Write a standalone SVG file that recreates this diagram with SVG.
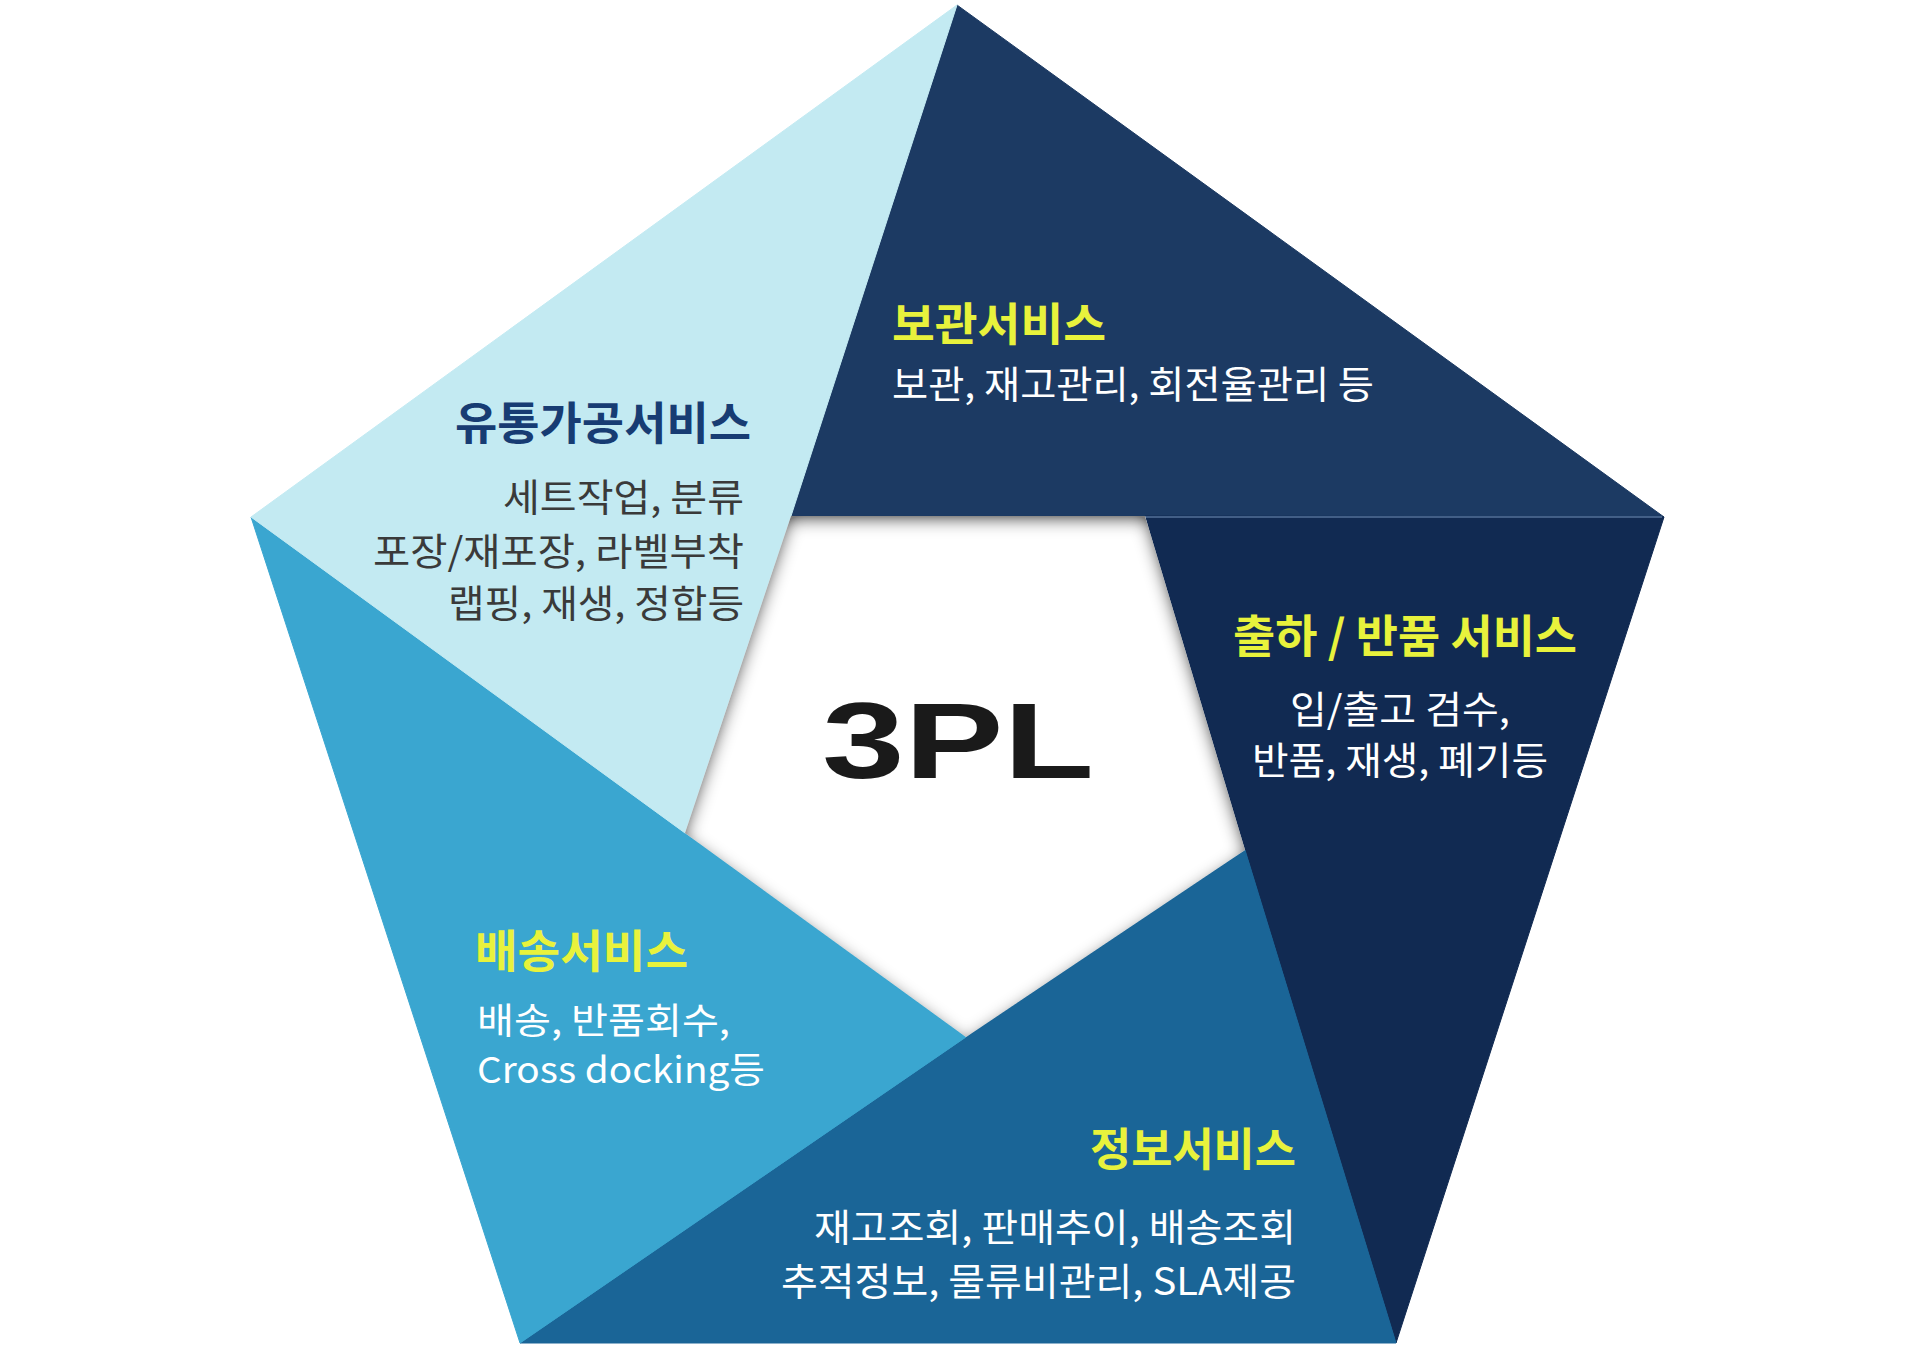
<svg xmlns="http://www.w3.org/2000/svg" width="1920" height="1352" viewBox="0 0 1920 1352">
  <defs>
    <filter id="inset" x="-10%" y="-10%" width="120%" height="120%">
      <feFlood flood-color="#000" flood-opacity="1" result="f"/>
      <feComposite in="f" in2="SourceAlpha" operator="out" result="outside"/>
      <feGaussianBlur in="outside" stdDeviation="8" result="blur"/>
      <feOffset in="blur" dx="0" dy="5" result="off"/>
      <feComposite in="off" in2="SourceAlpha" operator="in" result="shadow0"/>
      <feColorMatrix in="shadow0" type="matrix" values="0 0 0 0 0.2  0 0 0 0 0.2  0 0 0 0 0.2  0 0 0 1.3 0" result="shadow"/>
      <feMerge>
        <feMergeNode in="SourceGraphic"/>
        <feMergeNode in="shadow"/>
      </feMerge>
    </filter>
  </defs>
  <style>
    .title { font-family: "Noto Sans CJK KR", "Noto Sans", sans-serif; font-weight: 700; font-size: 45px; }
    .body { font-family: "Noto Sans CJK KR", "Noto Sans", sans-serif; font-weight: 400; font-size: 38px; }
    .small { font-size: 36px; }
    .yellow { fill: #e8f23c; }
    .white { fill: #ffffff; }
    .dark { fill: #3a3a3a; }
    .navy { fill: #173c73; }
    .seg { stroke-width: 1; stroke-linejoin: round; }
  </style>
  <rect width="1920" height="1352" fill="#ffffff"/>

  <g id="storage">
    <polygon class="seg" points="957,5 1664,517 791,516" fill="#1c3a63" stroke="#1c3a63"/>
  </g>
  <g id="shipping">
    <polygon class="seg" points="1145,516 1664,517 1396,1343 1245,850" fill="#112a52" stroke="#112a52"/>
  </g>
  <g id="info">
    <polygon class="seg" points="1245,850 1396,1343 520,1343 966,1037" fill="#1a6597" stroke="#1a6597"/>
  </g>
  <g id="delivery">
    <polygon class="seg" points="966,1037 520,1343 251,517 685,833" fill="#3aa6d0" stroke="#3aa6d0"/>
  </g>
  <g id="processing">
    <polygon class="seg" points="685,833 251,517 957,5 791,516" fill="#c3eaf2" stroke="#c3eaf2"/>
  </g>
  <line x1="1145" y1="517" x2="1662" y2="517" stroke="#4f6c94" stroke-width="2" opacity="0.8"/>

  <g id="center">
    <polygon points="791,516 1145,516 1245,850 966,1037 685,833" fill="#ffffff" filter="url(#inset)"/>
    <text x="822" y="778" font-family="Liberation Sans, Arial, sans-serif" font-weight="700" font-size="108" fill="#1a1a1a" textLength="272" lengthAdjust="spacingAndGlyphs">3PL</text>
  </g>

  <g id="processing-text">
    <text class="title navy" x="751" y="440" text-anchor="end" textLength="296" lengthAdjust="spacingAndGlyphs">유통가공서비스</text>
    <text class="body dark" x="744" y="511" text-anchor="end" textLength="241" lengthAdjust="spacingAndGlyphs">세트작업, 분류</text>
    <text class="body dark" x="744" y="565" text-anchor="end" textLength="371" lengthAdjust="spacingAndGlyphs">포장/재포장, 라벨부착</text>
    <text class="body dark" x="744" y="617" text-anchor="end" textLength="296" lengthAdjust="spacingAndGlyphs">랩핑, 재생, 정합등</text>
  </g>

  <g id="storage-text">
    <text class="title yellow" x="892" y="341" textLength="214" lengthAdjust="spacingAndGlyphs">보관서비스</text>
    <text class="body white" x="892" y="398" textLength="482" lengthAdjust="spacingAndGlyphs">보관, 재고관리, 회전율관리 등</text>
  </g>

  <g id="shipping-text">
    <text class="title yellow" x="1233" y="653" textLength="344" lengthAdjust="spacingAndGlyphs">출하 / 반품 서비스</text>
    <text class="body white" x="1290" y="723" textLength="220" lengthAdjust="spacingAndGlyphs">입/출고 검수,</text>
    <text class="body white" x="1252" y="774" textLength="296" lengthAdjust="spacingAndGlyphs">반품, 재생, 폐기등</text>
  </g>

  <g id="delivery-text">
    <text class="title yellow" x="475" y="968" textLength="213" lengthAdjust="spacingAndGlyphs">배송서비스</text>
    <text class="body small white" x="477" y="1034" textLength="253" lengthAdjust="spacingAndGlyphs">배송, 반품회수,</text>
    <text class="body small white" x="477" y="1083" textLength="288" lengthAdjust="spacingAndGlyphs">Cross docking등</text>
  </g>

  <g id="info-text">
    <text class="title yellow" x="1296" y="1166" text-anchor="end" textLength="206" lengthAdjust="spacingAndGlyphs">정보서비스</text>
    <text class="body white" x="1296" y="1241" text-anchor="end" textLength="482" lengthAdjust="spacingAndGlyphs">재고조회, 판매추이, 배송조회</text>
    <text class="body white" x="1296" y="1295" text-anchor="end" textLength="515" lengthAdjust="spacingAndGlyphs">추적정보, 물류비관리, SLA제공</text>
  </g>
</svg>
